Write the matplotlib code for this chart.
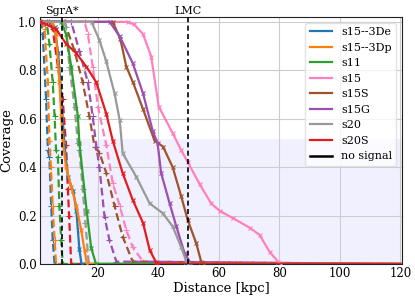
import matplotlib
matplotlib.use("Agg")
import matplotlib.pyplot as plt
import numpy as np

plt.rcParams['font.family'] = ['DejaVu Serif']

models = ["s15--3De", "s15--3Dp", "s11", "s15", "s15S", "s15G", "s20", "s20S"]
colors = ["#1f77b4", "#ff7f0e", "#2ca02c", "#ff7fbf", "#a0522d", "#9b4fb0", "#999999", "#e41a1c"]

# solid curves (distance kpc, coverage)
solid_d = {
    "s15--3De": [1, 4.5, 5.8, 7.0, 8.0, 9.0, 10.2, 12.0, 13.0, 14.0, 14.7, 120],
    "s15--3Dp": [1, 5.0, 6.3, 7.4, 8.0, 8.5, 9.6, 11.3, 13.0, 14.6, 15.7, 16.5, 120],
    "s11":      [1, 8.0, 9.6, 11.3, 13.5, 14.0, 16.4, 17.9, 19.5, 120],
    "s15":      [1, 30.0, 32.0, 35.0, 37.7, 40.2, 44.8, 47.6, 49.8, 53.7, 57.5, 60.3, 64.6, 70.2, 73.5, 76.8, 79.6, 80.5, 120],
    "s15S":     [1, 25.0, 27.5, 29.5, 31.7, 35.0, 38.8, 41.6, 44.8, 47.6, 49.8, 52.6, 54.2, 55.0, 120],
    "s15G":     [1, 24.0, 27.3, 31.6, 35.0, 38.2, 39.8, 41.0, 43.8, 46.0, 48.7, 50.9, 120],
    "s20":      [1, 18.0, 20.6, 22.8, 25.6, 27.3, 28.3, 32.8, 37.2, 41.5, 44.8, 47.6, 49.3, 50.0, 120],
    "s20S":     [1, 3.0, 6.3, 9.6, 13.0, 16.3, 19.6, 22.9, 25.0, 28.3, 31.6, 35.0, 37.2, 39.4, 40.0, 120],
}
solid_c = {
    "s15--3De": [1.0, 1.0, 0.98, 0.87, 0.70, 0.50, 0.36, 0.30, 0.22, 0.06, 0.0, 0.0],
    "s15--3Dp": [1.0, 1.0, 0.95, 0.75, 0.61, 0.51, 0.40, 0.32, 0.24, 0.14, 0.058, 0.0, 0.0],
    "s11":      [1.0, 1.0, 0.95, 0.815, 0.61, 0.50, 0.22, 0.066, 0.0, 0.0],
    "s15":      [1.0, 1.0, 0.99, 0.95, 0.857, 0.65, 0.54, 0.47, 0.42, 0.33, 0.25, 0.22, 0.19, 0.15, 0.12, 0.05, 0.01, 0.0, 0.0],
    "s15S":     [1.0, 1.0, 0.93, 0.815, 0.75, 0.64, 0.51, 0.485, 0.40, 0.28, 0.18, 0.085, 0.01, 0.0, 0.0],
    "s15G":     [1.0, 1.0, 0.94, 0.83, 0.705, 0.55, 0.50, 0.375, 0.25, 0.155, 0.045, 0.0, 0.0],
    "s20":      [1.0, 1.0, 0.925, 0.84, 0.705, 0.595, 0.457, 0.36, 0.25, 0.21, 0.155, 0.07, 0.01, 0.0, 0.0],
    "s20S":     [1.0, 0.99, 0.97, 0.91, 0.87, 0.815, 0.75, 0.62, 0.51, 0.375, 0.265, 0.17, 0.058, 0.005, 0.0, 0.0],
}
# dashed curves
dash_d = {
    "s15--3De": [1, 1.4, 1.9, 3.0, 3.6, 4.1, 4.7, 5.2, 5.8, 120],
    "s15--3Dp": [1, 1.8, 2.5, 3.6, 4.1, 4.6, 5.2, 5.8, 6.3, 120],
    "s11":      [1, 3.2, 4.1, 5.2, 5.8, 6.3, 6.9, 7.4, 8.0, 8.5, 120],
    "s15":      [1, 15.7, 16.8, 18.4, 20.1, 22.9, 25.0, 27.3, 29.5, 31.6, 35.0, 120],
    "s15S":     [1, 9.1, 12.4, 15.1, 17.3, 19.0, 20.6, 22.9, 25.6, 28.3, 31.6, 120],
    "s15G":     [1, 11.3, 14.0, 16.8, 18.4, 19.6, 20.6, 22.3, 23.9, 26.2, 120],
    "s20":      [1, 9.0, 9.6, 10.7, 12.4, 13.5, 14.0, 15.1, 16.0, 17.1, 120],
    "s20S":     [1, 4.0, 5.2, 6.9, 8.5, 9.6, 10.2, 10.6, 11.3, 120],
}
dash_c = {
    "s15--3De": [1.0, 1.0, 0.95, 0.68, 0.47, 0.44, 0.24, 0.10, 0.0, 0.0],
    "s15--3Dp": [1.0, 1.0, 0.97, 0.75, 0.51, 0.40, 0.24, 0.10, 0.0, 0.0],
    "s11":      [1.0, 1.0, 0.91, 0.75, 0.61, 0.47, 0.44, 0.24, 0.10, 0.0, 0.0],
    "s15":      [1.0, 1.0, 0.95, 0.815, 0.65, 0.49, 0.335, 0.24, 0.14, 0.07, 0.01, 0.0],
    "s15S":     [1.0, 1.0, 0.88, 0.75, 0.61, 0.485, 0.46, 0.375, 0.24, 0.113, 0.01, 0.0],
    "s15G":     [1.0, 1.0, 0.88, 0.75, 0.61, 0.485, 0.40, 0.195, 0.10, 0.01, 0.0],
    "s20":      [1.0, 1.0, 0.98, 0.815, 0.65, 0.50, 0.47, 0.31, 0.17, 0.0, 0.0],
    "s20S":     [1.0, 1.0, 0.97, 0.815, 0.68, 0.49, 0.31, 0.20, 0.0, 0.0],
}

ref_d = [8.2, 50.0]
ref_labels = ["SgrA*", "LMC"]
shade_top = 0.515

fig = plt.figure(figsize=(4.15, 2.99), dpi=100)
ax = fig.add_axes([0.0964, 0.117, 0.8723, 0.826])

ax.axhspan(0, shade_top, color=(0.94, 0.94, 1.0), zorder=0, lw=0)
ax.grid(True, color='#cccccc', lw=0.8, zorder=0.5)
ax.set_axisbelow(True)

for m, col in zip(models, colors):
    ax.plot(dash_d[m], dash_c[m], color=col, ls=(0, (3.5, 1.8)), lw=1.6, zorder=2)
    ax.plot(dash_d[m][:-1], dash_c[m][:-1], color=col, ls='none',
            marker='+', ms=4, mew=0.8, zorder=2)
for m, col in zip(models, colors):
    ax.plot(solid_d[m], solid_c[m], color=col, ls='-', lw=1.6, zorder=3, label=m)
    ax.plot(solid_d[m][:-1], solid_c[m][:-1], color=col, ls='none',
            marker='x', ms=3.5, mew=0.8, zorder=3)
ax.plot([], [], color='k', lw=1.8, label='no signal')

for d, lab in zip(ref_d, ref_labels):
    ax.axvline(d, color='k', ls=(0, (3, 2)), lw=1.2, zorder=4)
    ax.text(d, 1.025, lab, ha='center', va='bottom', fontsize=8)

ax.set_xlim(1, 120.5)
ax.set_ylim(0, 1.02)
ax.set_xticks([20, 40, 60, 80, 100, 120])
ax.set_yticks([0.0, 0.2, 0.4, 0.6, 0.8, 1.0])
ax.tick_params(labelsize=8.5, length=0, pad=2.5)
ax.set_xlabel("Distance [kpc]", fontsize=9.5, labelpad=1)
ax.set_ylabel("Coverage", fontsize=9.5, labelpad=3)
for s in ax.spines.values():
    s.set_color('#222222')

leg = ax.legend(loc='upper right', fontsize=8, framealpha=0.8, borderpad=0.4,
                labelspacing=0.5, handlelength=2.0, edgecolor='#dddddd')

fig.savefig("out.png", dpi=100)
